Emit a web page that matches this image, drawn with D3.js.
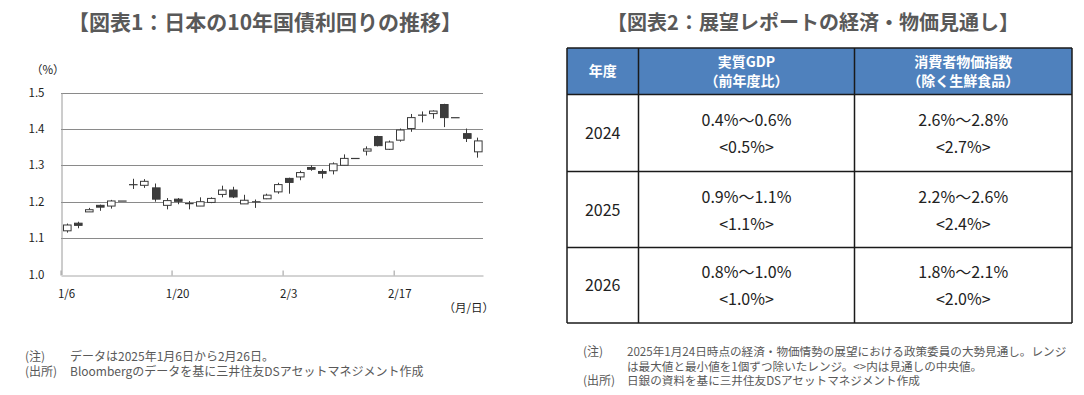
<!DOCTYPE html>
<html><head><meta charset="utf-8">
<script src="https://cdn.jsdelivr.net/npm/d3@7"></script>
<style>
html,body{margin:0;padding:0;background:#fff;}
svg{display:block;}
text{font-family:"Noto Sans CJK JP","Noto Sans",sans-serif;}
</style></head>
<body>
<svg id="c" width="1084" height="395"></svg>
<script>
// ---- Chart 1 data: 10Y JGB yield (%), daily candles 2025/1/6 - 2/26 ----
const dates = ["1/6","1/7","1/8","1/9","1/10","1/13","1/14","1/15","1/16","1/17",
  "1/20","1/21","1/22","1/23","1/24","1/27","1/28","1/29","1/30","1/31",
  "2/3","2/4","2/5","2/6","2/7","2/10","2/11","2/12","2/13","2/14",
  "2/17","2/18","2/19","2/20","2/21","2/24","2/25","2/26"];
const openV  = [1.120,1.141,1.172,1.190,1.188,1.202,1.247,1.245,1.238,1.190,
  1.207,1.195,1.188,1.198,1.220,1.232,1.194,1.200,1.208,1.227,
  1.264,1.268,1.294,1.283,1.285,1.300,1.319,1.339,1.379,1.344,
  1.369,1.401,1.438,1.442,1.467,1.431,1.387,1.337];
const highV  = [1.140,1.145,1.183,1.192,1.205,1.202,1.263,1.262,1.250,1.210,
  1.210,1.202,1.212,1.212,1.244,1.241,1.219,1.206,1.222,1.252,
  1.266,1.285,1.300,1.289,1.308,1.330,1.319,1.352,1.381,1.368,
  1.401,1.441,1.448,1.451,1.469,1.431,1.401,1.376];
const lowV   = [1.115,1.127,1.172,1.175,1.181,1.202,1.235,1.238,1.200,1.179,
  1.193,1.179,1.188,1.196,1.212,1.210,1.194,1.183,1.207,1.222,
  1.222,1.259,1.285,1.264,1.275,1.300,1.319,1.327,1.352,1.342,
  1.365,1.392,1.418,1.428,1.405,1.431,1.364,1.321];
const closeV = [1.136,1.135,1.178,1.185,1.202,1.202,1.247,1.256,1.207,1.203,
  1.201,1.195,1.200,1.209,1.232,1.213,1.204,1.200,1.218,1.247,
  1.253,1.280,1.289,1.278,1.304,1.319,1.319,1.345,1.354,1.364,
  1.397,1.431,1.438,1.449,1.431,1.431,1.374,1.367];
const yTicks = [1.0,1.1,1.2,1.3,1.4,1.5];
const xTickIdx = [0,10,20,30];

// ---- Chart 2 data: BOJ outlook table ----
const tableHead = [["年度"],["実質GDP","（前年度比）"],["消費者物価指数","（除く生鮮食品）"]];
const years = ["2024","2025","2026"];
const gdpRange = ["0.4%～0.6%","0.9%～1.1%","0.8%～1.0%"];
const gdpMid = ["<0.5%>","<1.1%>","<1.0%>"];
const cpiRange = ["2.6%～2.8%","2.2%～2.6%","1.8%～2.1%"];
const cpiMid = ["<2.7%>","<2.4%>","<2.0%>"];

const svg = d3.select("#c");
const gray = "#595959";

// Titles
svg.append("text").attr("x",265).attr("y",30).attr("text-anchor","middle")
  .attr("font-size",21).attr("font-weight","bold").attr("fill",gray)
  .text("【図表1：日本の10年国債利回りの推移】");
svg.append("text").attr("x",813).attr("y",30).attr("text-anchor","middle")
  .attr("font-size",20).attr("font-weight","bold").attr("fill",gray)
  .text("【図表2：展望レポートの経済・物価見通し】");

// ---- Candlestick chart ----
const candles = dates.map((d,i)=>({i,d,o:openV[i],h:highV[i],l:lowV[i],c:closeV[i]}));
const x = d3.scaleBand().domain(d3.range(dates.length)).range([61,483]).padding(0);
const y = d3.scaleLinear().domain([1.0,1.5]).range([274.5,92.5]);

const g = svg.append("g");
// gridlines
g.selectAll("line.grid").data(yTicks.filter(v=>v>1.0)).join("line")
  .attr("x1",61).attr("x2",483)
  .attr("y1",d=>Math.round(y(d))+0.5).attr("y2",d=>Math.round(y(d))+0.5)
  .attr("stroke","#8a8a8a").attr("stroke-width",1);

// y axis
const yAxis = d3.axisLeft(y).tickValues(yTicks).tickFormat(d3.format(".1f")).tickSize(0).tickPadding(17);
const ya = g.append("g").attr("transform","translate(61.5,0)").call(yAxis);
ya.select(".domain").attr("stroke","#9a9a9a");
ya.selectAll("text").attr("font-family","DejaVu Sans, sans-serif").attr("font-size",11.5).attr("fill","#222");

// x axis
const xAxis = d3.axisBottom(x).tickValues(xTickIdx).tickFormat(i=>dates[i]).tickSize(0).tickPadding(14);
const xa = g.append("g").attr("transform",`translate(0,${Math.round(y(1.0))+0.5})`).call(xAxis);
xa.select(".domain").attr("stroke","#a8a8a8");
xa.selectAll("text").attr("font-family","DejaVu Sans, sans-serif").attr("font-size",11.5).attr("fill","#222");
xa.selectAll(".tick").append("line")
  .attr("x1",-x.bandwidth()/2).attr("x2",-x.bandwidth()/2)
  .attr("y1",0).attr("y2",-5).attr("stroke","#9a9a9a");

// units
svg.append("text").attr("x",31).attr("y",74).attr("font-size",11.5).attr("fill","#222").text("（%）");
svg.append("text").attr("x",494).attr("y",312).attr("text-anchor","end").attr("font-size",11.5).attr("fill","#222").text("（月/日）");

// candles
const bw = 7.6;
const cg = g.append("g");
cg.selectAll("line.wick").data(candles).join("line")
  .attr("x1",d=>Math.round(x(d.i)+x.bandwidth()/2)+0.5)
  .attr("x2",d=>Math.round(x(d.i)+x.bandwidth()/2)+0.5)
  .attr("y1",d=>y(d.h)).attr("y2",d=>y(d.l))
  .attr("stroke","#3a3a3a").attr("stroke-width",1);
cg.selectAll("rect.body").data(candles).join("rect")
  .attr("x",d=>Math.round(x(d.i)+x.bandwidth()/2-bw/2)+0.5)
  .attr("width",bw)
  .attr("y",d=>y(Math.max(d.o,d.c)))
  .attr("height",d=>Math.max(0.2,Math.abs(y(d.o)-y(d.c))))
  .attr("fill",d=>d.c<d.o?"#3c3c3c":"#ffffff")
  .attr("stroke","#3a3a3a").attr("stroke-width",1);

// notes left
const noteFs = 12;
svg.append("text").attr("x",25).attr("y",361).attr("font-size",noteFs).attr("fill",gray).text("(注)");
svg.append("text").attr("x",70).attr("y",361).attr("font-size",noteFs).attr("fill",gray).text("データは2025年1月6日から2月26日。");
svg.append("text").attr("x",25).attr("y",376).attr("font-size",noteFs).attr("fill",gray).text("(出所)");
svg.append("text").attr("x",70).attr("y",376).attr("font-size",noteFs).attr("fill",gray).text("Bloombergのデータを基に三井住友DSアセットマネジメント作成");

// ---- Table ----
const colX = [567,638.5,854.5,1072];
const rowY = [48,94.5,171.5,247.5,323];
const tg = svg.append("g");
tg.append("rect").attr("x",colX[0]).attr("y",rowY[0]).attr("width",colX[3]-colX[0]).attr("height",rowY[1]-rowY[0]).attr("fill","#4f81bd");
// header text
tableHead.forEach((lines,ci)=>{
  const cx = (colX[ci]+colX[ci+1])/2;
  const cy = (rowY[0]+rowY[1])/2;
  lines.forEach((t,li)=>{
    tg.append("text").attr("x",cx).attr("y",cy + (li-(lines.length-1)/2)*18.5 + 5)
      .attr("text-anchor","middle").attr("font-size",14).attr("font-weight","bold").attr("fill","#fff").text(t);
  });
});
// body
years.forEach((yr,ri)=>{
  const top = rowY[ri+1], bot = rowY[ri+2];
  const cy = (top+bot)/2;
  tg.append("text").attr("x",(colX[0]+colX[1])/2).attr("y",cy+6).attr("text-anchor","middle").attr("font-size",16).attr("fill","#222").text(yr);
  [[gdpRange[ri],gdpMid[ri]],[cpiRange[ri],cpiMid[ri]]].forEach((pair,k)=>{
    const cx = (colX[k+1]+colX[k+2])/2;
    tg.append("text").attr("x",cx).attr("y",cy-7).attr("text-anchor","middle").attr("font-size",16).attr("fill","#222").text(pair[0]);
    tg.append("text").attr("x",cx).attr("y",cy+20).attr("text-anchor","middle").attr("font-size",16).attr("fill","#222").text(pair[1]);
  });
});
// borders
tg.selectAll("line.h").data(rowY).join("line").attr("x1",colX[0]).attr("x2",colX[3])
  .attr("y1",d=>d).attr("y2",d=>d).attr("stroke","#1a1a1a").attr("stroke-width",1.5);
tg.selectAll("line.v").data(colX).join("line").attr("y1",rowY[0]).attr("y2",rowY[4])
  .attr("x1",d=>d).attr("x2",d=>d).attr("stroke","#1a1a1a").attr("stroke-width",1.5);

// notes right
svg.append("text").attr("x",583).attr("y",356).attr("font-size",noteFs).attr("fill",gray).text("(注)");
svg.append("text").attr("x",627).attr("y",356).attr("font-size",11.6).attr("fill",gray).text("2025年1月24日時点の経済・物価情勢の展望における政策委員の大勢見通し。レンジ");
svg.append("text").attr("x",627).attr("y",371).attr("font-size",11.6).attr("fill",gray).text("は最大値と最小値を1個ずつ除いたレンジ。<>内は見通しの中央値。");
svg.append("text").attr("x",583).attr("y",385).attr("font-size",noteFs).attr("fill",gray).text("(出所)");
svg.append("text").attr("x",627).attr("y",385).attr("font-size",11.6).attr("fill",gray).text("日銀の資料を基に三井住友DSアセットマネジメント作成");
</script>
</body></html>
